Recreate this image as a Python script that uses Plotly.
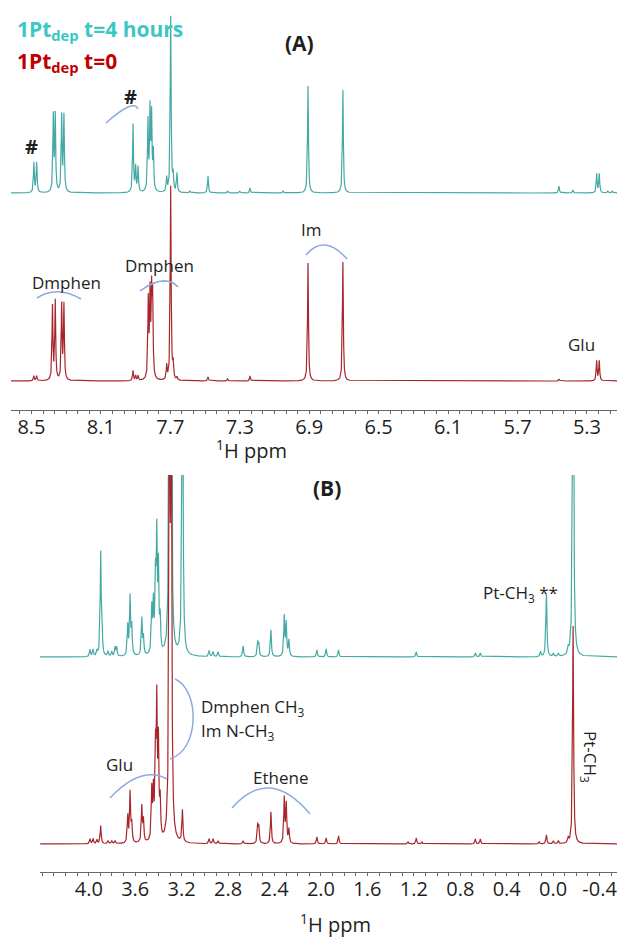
import numpy as np
import plotly.graph_objects as go

# ---------------- data ----------------
# Panel A (aromatic region), peak positions in ppm and intensities (arb. units)
a_teal_ppm = [8.486, 8.470, 8.374, 8.363, 8.326, 8.313, 7.915, 7.900, 7.886,
              7.829, 7.817, 7.808, 7.798, 7.721, 7.698, 7.684, 7.662, 7.587,
              7.483, 7.37, 7.30, 7.241, 7.05, 6.907, 6.706, 5.461, 5.381,
              5.244, 5.229, 5.18, 5.155]
a_teal_int = [30, 30, 76, 76, 76, 76, 68, 25, 25,
              70, 80, 74, 38, 14, 176, 16, 19, 2,
              17, 2, 2, 5, 2, 107, 103, 7, 3,
              19, 19, 2, 2]
a_red_ppm = [8.486, 8.470, 8.379, 8.363, 8.326, 8.313, 7.915, 7.900, 7.886,
             7.827, 7.817, 7.808, 7.802, 7.721, 7.698, 7.684, 7.662, 7.483,
             7.37, 7.241, 6.907, 6.706, 5.461, 5.244, 5.229]
a_red_int = [5, 5, 74, 79, 75, 75, 10, 5, 5,
             78, 82, 80, 76, 14, 194, 15, 3, 4,
             2, 5, 118, 119, 2, 20, 20]

# Panel B (aliphatic region)
b_teal_ppm = [3.989, 3.963, 3.929, 3.897, 3.884, 3.834, 3.802, 3.773, 3.759,
              3.664, 3.644, 3.630, 3.543, 3.529, 3.457, 3.443, 3.425, 3.414,
              3.400, 3.385, 3.305, 3.290, 3.193, 2.963, 2.929, 2.886, 2.670,
              2.545, 2.535, 2.431, 2.316, 2.299, 2.276, 2.035, 1.955, 1.848,
              1.179, 0.670, 0.627, 0.109, 0.058, -0.002, -0.045, -0.130, -0.172]
b_teal_int = [7, 7, 5, 104, 14, 5, 5, 9, 9,
              30, 58, 28, 37, 18, 45, 48, 70, 112,
              82, 32, 450, 450, 420, 6, 5, 5, 11,
              14, 12, 27, 40, 33, 16, 7, 8, 7,
              5, 4, 4, 5, 63, 3, 3, 6, 480]
b_red_ppm = [3.989, 3.963, 3.929, 3.897, 3.834, 3.802, 3.773,
             3.664, 3.644, 3.630, 3.543, 3.529, 3.457, 3.443, 3.425, 3.414,
             3.400, 3.385, 3.305, 3.290, 3.193, 2.963, 2.929, 2.886, 2.670,
             2.545, 2.535, 2.431, 2.316, 2.299, 2.276, 2.035, 1.955, 1.848,
             1.250, 1.179, 1.130, 0.670, 0.627, 0.120, 0.058, -0.002, -0.045,
             -0.130, -0.172]
b_red_int = [5, 5, 4, 18, 3, 3, 3,
             27, 50, 18, 36, 22, 50, 47, 82, 130,
             92, 36, 520, 520, 32, 5, 5, 3, 3,
             18, 16, 32, 45, 39, 14, 7, 6, 8,
             2, 6, 2, 5, 5, 2, 9, 3, 3,
             5, 218]

a_tick_vals = [8.5, 8.1, 7.7, 7.3, 6.9, 6.5, 6.1, 5.7, 5.3]
a_tick_text = ["8.5", "8.1", "7.7", "7.3", "6.9", "6.5", "6.1", "5.7", "5.3"]
b_tick_vals = [4.0, 3.6, 3.2, 2.8, 2.4, 2.0, 1.6, 1.2, 0.8, 0.4, 0.0, -0.4]
b_tick_text = ["4.0", "3.6", "3.2", "2.8", "2.4", "2.0", "1.6", "1.2", "0.8",
               "0.4", "0.0", "-0.4"]

# ---------------- layout helpers ----------------
W, H = 640, 940
TEAL = "#44a9a5"
RED = "#a8262b"
ARC = "#8eaadc"
TXT = "#1e1e1e"


def fx(x):
    return x / W


def fy(y):
    return 1 - y / H


def spectrum(ppm, inten, lo, hi, hw, base):
    grid = np.union1d(np.arange(lo, hi, hw / 4.0), np.array(ppm))
    y = np.full(grid.shape, float(base))
    for p, h in zip(ppm, inten):
        y += h / (1.0 + ((grid - p) / hw) ** 2)
    return grid, y


A_RANGE = [8.618, 5.127]
B_RANGE = [4.42, -0.55]

fig = go.Figure()

# Panel A
x, y = spectrum(a_teal_ppm, a_teal_int, A_RANGE[1], A_RANGE[0], 0.003, 217)
fig.add_trace(go.Scatter(x=x, y=y, mode="lines", name="t=4 hours",
                         line=dict(color=TEAL, width=1.2),
                         xaxis="x", yaxis="y", showlegend=False))
x, y = spectrum(a_red_ppm, a_red_int, A_RANGE[1], A_RANGE[0], 0.003, 29)
fig.add_trace(go.Scatter(x=x, y=y, mode="lines", name="t=0",
                         line=dict(color=RED, width=1.2),
                         xaxis="x", yaxis="y", showlegend=False))

# Panel B
x, y = spectrum(b_teal_ppm, b_teal_int, B_RANGE[1], B_RANGE[0], 0.005, 215)
fig.add_trace(go.Scatter(x=x, y=y, mode="lines", name="t=4 hours",
                         line=dict(color=TEAL, width=1.2),
                         xaxis="x2", yaxis="y2", showlegend=False))
x, y = spectrum(b_red_ppm, b_red_int, B_RANGE[1], B_RANGE[0], 0.005, 28)
fig.add_trace(go.Scatter(x=x, y=y, mode="lines", name="t=0",
                         line=dict(color=RED, width=1.2),
                         xaxis="x2", yaxis="y2", showlegend=False))

axis_common = dict(showline=True, linecolor="#666", linewidth=1, showgrid=False,
                   zeroline=False, ticks="outside", ticklen=3, tickcolor="#666",
                   tickmode="array", ticklabelstandoff=-4,
                   tickfont=dict(family="Open Sans", size=20, color=TXT))

fig.update_layout(
    width=W, height=H, margin=dict(l=0, r=0, t=0, b=0),
    paper_bgcolor="white", plot_bgcolor="white",
    xaxis=dict(domain=[fx(11), fx(617)], range=A_RANGE, anchor="y",
               tickvals=a_tick_vals, ticktext=a_tick_text,
               minor=dict(ticks="outside", ticklen=3, tickcolor="#666",
                          tick0=8.5, dtick=0.4 / 6), **axis_common),
    yaxis=dict(domain=[fy(410), fy(10)], range=[0, 400], visible=False,
               anchor="x"),
    xaxis2=dict(domain=[fx(40), fx(617)], range=B_RANGE, anchor="y2",
                tickvals=b_tick_vals, ticktext=b_tick_text,
                minor=dict(ticks="outside", ticklen=3, tickcolor="#666",
                           tick0=0, dtick=0.1), **axis_common),
    yaxis2=dict(domain=[fy(872), fy(475)], range=[0, 397], visible=False,
                anchor="x2"),
)

# ---------------- text ----------------
def note(text, x, y, size=17, color=TXT, bold=False, xanchor="center",
         angle=0, family="Open Sans"):
    if bold:
        text = "<b>" + text + "</b>"
    fig.add_annotation(text=text, x=fx(x), y=fy(y), xref="paper", yref="paper",
                       showarrow=False, xanchor=xanchor, yanchor="middle",
                       textangle=angle,
                       font=dict(family=family, size=size, color=color))


note("1Pt<sub>dep</sub> t=4 hours", 15, 30, size=21, color="#3cc6c6",
     bold=True, xanchor="left")
note("1Pt<sub>dep</sub> t=0", 15, 62, size=21, color="#c00000", bold=True,
     xanchor="left")
note("(A)", 299, 43, size=21, bold=True)
note("(B)", 327, 488, size=21, bold=True)
note("#", 31, 146, size=20, bold=True)
note("#", 130, 97, size=20, bold=True)
note("Dmphen", 66, 282)
note("Dmphen", 159, 265)
note("Im", 311, 230)
note("Glu", 581, 344)
note("Pt-CH<sub>3</sub> **", 560, 593, xanchor="right")
note("Dmphen CH<sub>3</sub>", 199, 707, xanchor="left")
note("Im N-CH<sub>3</sub>", 199, 731, xanchor="left")
note("Glu", 119, 764)
note("Ethene", 280, 777)
note("Pt-CH<sub>3</sub>", 590, 757, angle=90)
note("<sup>1</sup>H ppm", 251, 449, size=20)
note("<sup>1</sup>H ppm", 335, 923, size=20)

# ---------------- arcs ----------------
def qarc(p0, c, p1):
    path = "M {} {} Q {} {} {} {}".format(fx(p0[0]), fy(p0[1]), fx(c[0]),
                                          fy(c[1]), fx(p1[0]), fy(p1[1]))
    fig.add_shape(type="path", path=path, xref="paper", yref="paper",
                  line=dict(color=ARC, width=1.5))


qarc((106, 123), (134, 98), (138, 109))
qarc((37, 298), (57, 285), (81, 299))
qarc((140, 291), (165, 273), (178, 287))
qarc((306, 255), (324, 233), (347, 259))
qarc((110, 798), (141, 765), (167, 779))
qarc((232, 808), (269, 765), (310, 814))
fig.add_shape(type="path",
              path="M {} {} C {} {} {} {} {} {}".format(
                  fx(175), fy(679), fx(200), fy(690), fx(200), fy(750),
                  fx(170), fy(759)),
              xref="paper", yref="paper", line=dict(color=ARC, width=1.5))

fig.write_html("out.html")
